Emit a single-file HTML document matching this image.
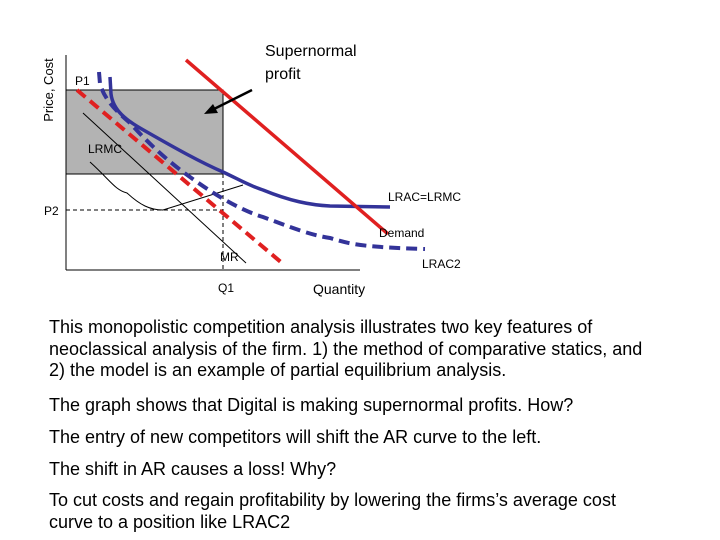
<!DOCTYPE html>
<html><head><meta charset="utf-8"><style>
body{margin:0;width:720px;height:540px;background:#fff;font-family:"Liberation Sans",sans-serif;overflow:hidden;position:relative}
.t{position:absolute;left:49px;font-size:18px;line-height:21.5px;color:#000;margin:0;width:600px}
</style></head><body>
<svg width="720" height="300" style="position:absolute;left:0;top:0" font-family="Liberation Sans, sans-serif">
<rect x="66" y="90" width="157" height="84" fill="#b3b3b3" stroke="#000" stroke-width="1"/>
<line x1="66" y1="210" x2="223" y2="210" stroke="#000" stroke-dasharray="4,3"/>
<line x1="223" y1="174" x2="223" y2="270" stroke="#000" stroke-dasharray="4,3"/>
<path d="M90,162 C110,180 115,190 127,193 C140,205 150,210 163,210 L243,185" fill="none" stroke="#000" stroke-width="1"/>
<line x1="83" y1="113" x2="246" y2="263" stroke="#000" stroke-width="1"/>
<path d="M99,72 L100,84 C105,100 115,110 130,123 C150,145 170,163 190,177 C215,195 240,210 263,217 C290,227 310,235 330,238 C350,244 360,247 425,249" fill="none" stroke="#333399" stroke-width="4" stroke-dasharray="11,6"/>
<line x1="77" y1="90" x2="282" y2="263" stroke="#e02020" stroke-width="4" stroke-dasharray="11,6"/>
<path d="M110,77 L111,94 C113,110 125,120 147,132 C175,148 200,162 223,172 C240,180 250,186 263,190 C290,201 310,205 330,206 L390,207" fill="none" stroke="#333399" stroke-width="3.5"/>
<line x1="186" y1="60" x2="388" y2="234" stroke="#e02020" stroke-width="3.5"/>
<line x1="66" y1="55" x2="66" y2="270" stroke="#000"/>
<line x1="66" y1="270" x2="360" y2="270" stroke="#000"/>
<line x1="252" y1="90" x2="212" y2="110" stroke="#000" stroke-width="2.5"/>
<polygon points="204,114 213,104 218,113" fill="#000"/>
<text x="265" y="56" font-size="16">Supernormal</text>
<text x="265" y="79" font-size="16">profit</text>
<text transform="translate(53,90) rotate(-90)" text-anchor="middle" font-size="13">Price, Cost</text>
<text x="75" y="85" font-size="12">P1</text>
<text x="88" y="153" font-size="12">LRMC</text>
<text x="44" y="215" font-size="12">P2</text>
<text x="388" y="201" font-size="12">LRAC=LRMC</text>
<text x="379" y="237" font-size="12">Demand</text>
<text x="220" y="261" font-size="12">MR</text>
<text x="422" y="268" font-size="12">LRAC2</text>
<text x="218" y="292" font-size="12">Q1</text>
<text x="313" y="294" font-size="14">Quantity</text>
</svg>
<p class="t" style="top:317px">This monopolistic competition analysis illustrates two key features of neoclassical analysis of the firm. 1) the method of comparative statics, and 2) the model is an example of partial equilibrium analysis.</p>
<p class="t" style="top:395px">The graph shows that Digital is making supernormal profits. How?</p>
<p class="t" style="top:427px">The entry of new competitors will shift the AR curve to the left.</p>
<p class="t" style="top:459px">The shift in AR causes a loss! Why?</p>
<p class="t" style="top:490px">To cut costs and regain profitability by lowering the firms’s average cost curve to a position like LRAC2</p>
</body></html>
